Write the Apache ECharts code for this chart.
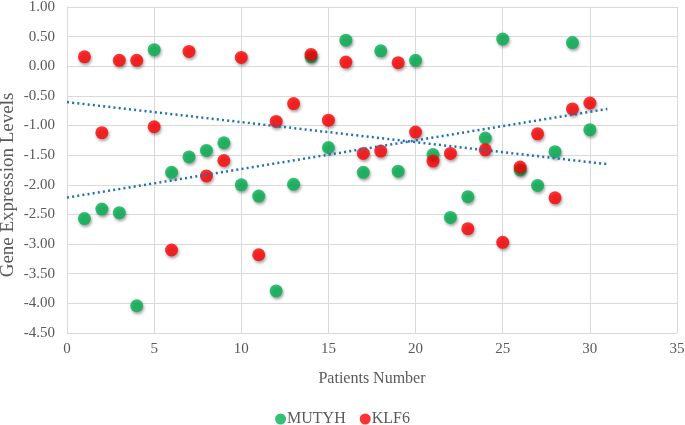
<!DOCTYPE html>
<html><head><meta charset="utf-8">
<script src="https://cdn.jsdelivr.net/npm/echarts@6/dist/echarts.min.js"></script>
<style>html,body{margin:0;padding:0;background:#fff}#c{width:685px;height:425px}</style>
</head><body><div id="c"></div>
<script>
const patients = [1,2,3,4,5,6,7,8,9,10,11,12,13,14,15,16,17,18,19,20,21,22,23,24,25,26,27,28,29,30];
const mutyh = [-2.57,-2.41,-2.47,-4.04,0.28,-1.79,-1.53,-1.42,-1.29,-2.00,-2.19,-3.79,-1.99,0.16,-1.37,0.44,-1.79,0.26,-1.77,0.10,-1.49,-2.55,-2.20,-1.21,0.46,-1.75,-2.01,-1.44,0.40,-1.07];
const klf6 = [0.16,-1.12,0.10,0.10,-1.02,-3.10,0.25,-1.85,-1.59,0.15,-3.18,-0.93,-0.63,0.20,-0.91,0.07,-1.47,-1.43,0.06,-1.11,-1.60,-1.47,-2.74,-1.41,-2.97,-1.70,-1.14,-2.22,-0.72,-0.62];
const seriesNames = ['MUTYH','KLF6'];
const trendRange = [0, 31];

function fit(xs, ys){
  const n=xs.length; let sx=0,sy=0,sxx=0,sxy=0;
  for(let i=0;i<n;i++){sx+=xs[i];sy+=ys[i];sxx+=xs[i]*xs[i];sxy+=xs[i]*ys[i];}
  const b=(n*sxy-sx*sy)/(n*sxx-sx*sx); const a=(sy-b*sx)/n;
  return trendRange.map(x=>[x,a+b*x]);
}
const font = 'Liberation Serif';
const grey = '#595959';
const shadow = {shadowBlur:3, shadowColor:'rgba(0,0,0,0.45)', shadowOffsetX:1, shadowOffsetY:2};
const chart = echarts.init(document.getElementById('c'), null, {renderer:'canvas'});
chart.setOption({
  animation:false,
  grid:{left:67,right:8,top:7,bottom:92,containLabel:false,outerBoundsMode:'none'},
  legend:{bottom:-2,left:'center',padding:0,itemWidth:11,itemHeight:11,itemGap:14,icon:'circle',
    data:seriesNames,textStyle:{fontFamily:font,fontSize:16,color:grey,padding:[0,0,0,-4]}},
  xAxis:{type:'value',min:0,max:35,interval:5,
    name:'Patients Number',nameLocation:'middle',nameGap:38,nameMoveOverlap:false,
    nameTextStyle:{fontFamily:font,fontSize:16,color:grey},
    axisLine:{show:true,lineStyle:{color:'#d9d9d9'}},axisTick:{show:false},
    axisLabel:{fontFamily:font,fontSize:15,color:grey,margin:9},
    splitLine:{show:true,lineStyle:{color:'#d9d9d9'}}},
  yAxis:{type:'value',min:-4.5,max:1,interval:0.5,
    name:'Gene Expression Levels',nameLocation:'middle',nameGap:49,nameMoveOverlap:false,
    nameTextStyle:{fontFamily:font,fontSize:19,color:grey,padding:[0,30,0,0]},
    axisLine:{show:true,lineStyle:{color:'#d9d9d9'}},axisTick:{show:false},
    axisLabel:{fontFamily:font,fontSize:15,color:grey,margin:12,formatter:v=>v.toFixed(2)},
    splitLine:{show:true,lineStyle:{color:'#d9d9d9'}}},
  series:[
    {name:'MUTYH',type:'scatter',symbolSize:13,itemStyle:Object.assign({color:'#00b050'},shadow),
      data:patients.map((p,i)=>[p,mutyh[i]]),z:3},
    {name:'KLF6',type:'scatter',symbolSize:13,itemStyle:Object.assign({color:'#ff0000'},shadow),
      data:patients.map((p,i)=>[p,klf6[i]]),z:4},
    {name:'MUTYH trend',type:'line',data:fit(patients,mutyh),symbol:'none',silent:true,
      lineStyle:{color:'#1f6fb5',width:2.5,type:[2,3.2]},z:5},
    {name:'KLF6 trend',type:'line',data:fit(patients,klf6),symbol:'none',silent:true,
      lineStyle:{color:'#1f6fb5',width:2.5,type:[2,3.2]},z:5}
  ]
});
</script></body></html>
